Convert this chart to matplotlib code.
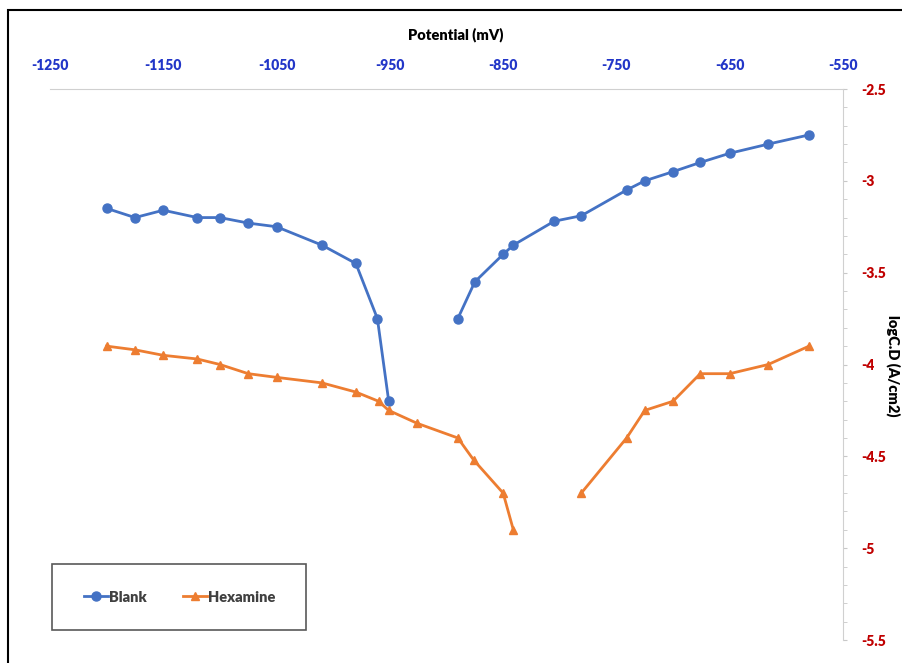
import matplotlib.pyplot as plt
from matplotlib.patches import Rectangle
from matplotlib.ticker import MultipleLocator
import numpy as np

nan = np.nan

# Blank: cathodic branch, gap, anodic branch
blank_x = [-1200, -1175, -1150, -1120, -1100, -1075, -1050, -1010, -980, -961, -951,
           nan,
           -890, -875, -850, -841, -805, -781, -741, -725, -700, -676, -650, -616, -580]
blank_y = [-3.15, -3.2, -3.16, -3.2, -3.2, -3.23, -3.25, -3.35, -3.45, -3.75, -4.2,
           nan,
           -3.75, -3.55, -3.4, -3.35, -3.22, -3.19, -3.05, -3.0, -2.95, -2.9, -2.85, -2.8, -2.75]

hexa_x = [-1200, -1175, -1150, -1120, -1100, -1075, -1050, -1010, -980, -960, -951,
          -926, -890, -876, -850, -841,
          nan,
          -781, -741, -725, -700, -676, -650, -616, -580]
hexa_y = [-3.9, -3.92, -3.95, -3.97, -4.0, -4.05, -4.07, -4.1, -4.15, -4.2, -4.25,
          -4.32, -4.4, -4.52, -4.7, -4.9,
          nan,
          -4.7, -4.4, -4.25, -4.2, -4.05, -4.05, -4.0, -3.9]

x_ticks = [-1250, -1150, -1050, -950, -850, -750, -650, -550]
y_ticks = [-2.5, -3, -3.5, -4, -4.5, -5, -5.5]

plt.rcParams['font.family'] = ['Lato', 'DejaVu Sans']

fig = plt.figure(figsize=(9.02, 6.63), dpi=100)
ax = fig.add_axes([50 / 902, 1 - 640 / 663, 793 / 902, 551 / 663])

ax.plot(blank_x, blank_y, color='#4472C4', lw=2.0, marker='o', ms=6.5, label='Blank')
ax.plot(hexa_x, hexa_y, color='#ED7D31', lw=2.0, marker='^', ms=6, label='Hexamine')

ax.set_xlim(-1250, -550)
ax.set_ylim(-5.5, -2.5)

# x axis on top, y axis on right
ax.xaxis.tick_top()
ax.xaxis.set_label_position('top')
ax.set_xticks(x_ticks)
ax.set_xticklabels([str(v) for v in x_ticks], color='#2236C8', fontsize=10, fontweight='heavy')
ax.tick_params(axis='x', length=0, pad=12)

ax.yaxis.tick_right()
ax.set_yticks(y_ticks)
ax.set_yticklabels([f'{v:g}' for v in y_ticks], color='#C00000', fontsize=10, fontweight='heavy')
ax.yaxis.set_minor_locator(MultipleLocator(0.1))
ax.tick_params(axis='y', which='both', length=3, color='#C8C8C8', direction='out', pad=10)

for s in ['left', 'bottom']:
    ax.spines[s].set_visible(False)
ax.spines['top'].set_color('#D0D0D0')
ax.spines['right'].set_color('#D0D0D0')

fig.text(456 / 902, 1 - 35 / 663, 'Potential (mV)', ha='center', va='center',
         fontsize=10.5, fontweight='heavy')
fig.text(893 / 902, 1 - 366 / 663, 'logC.D (A/cm2)', ha='center', va='center',
         rotation=-90, fontsize=10.5, fontweight='heavy')

# legend box
fig.patches.append(Rectangle((52 / 902, 1 - 630 / 663), 254 / 902, 66 / 663,
                             transform=fig.transFigure, fill=False,
                             edgecolor='#595959', lw=1.2))
leg = fig.legend(loc='center', bbox_to_anchor=(180 / 902, 1 - 597 / 663), ncol=2,
                 frameon=False, fontsize=10.5, handlelength=1.6, handletextpad=0.1,
                 columnspacing=2.5)
for t in leg.get_texts():
    t.set_color('#404040')
    t.set_fontweight('heavy')

# outer frame
fig.patches.append(Rectangle((8 / 902, -0.05), 1.0, 1 - 10 / 663 + 0.05,
                             transform=fig.transFigure, fill=False,
                             edgecolor='black', lw=1.5))

plt.savefig('out.png', dpi=100)
